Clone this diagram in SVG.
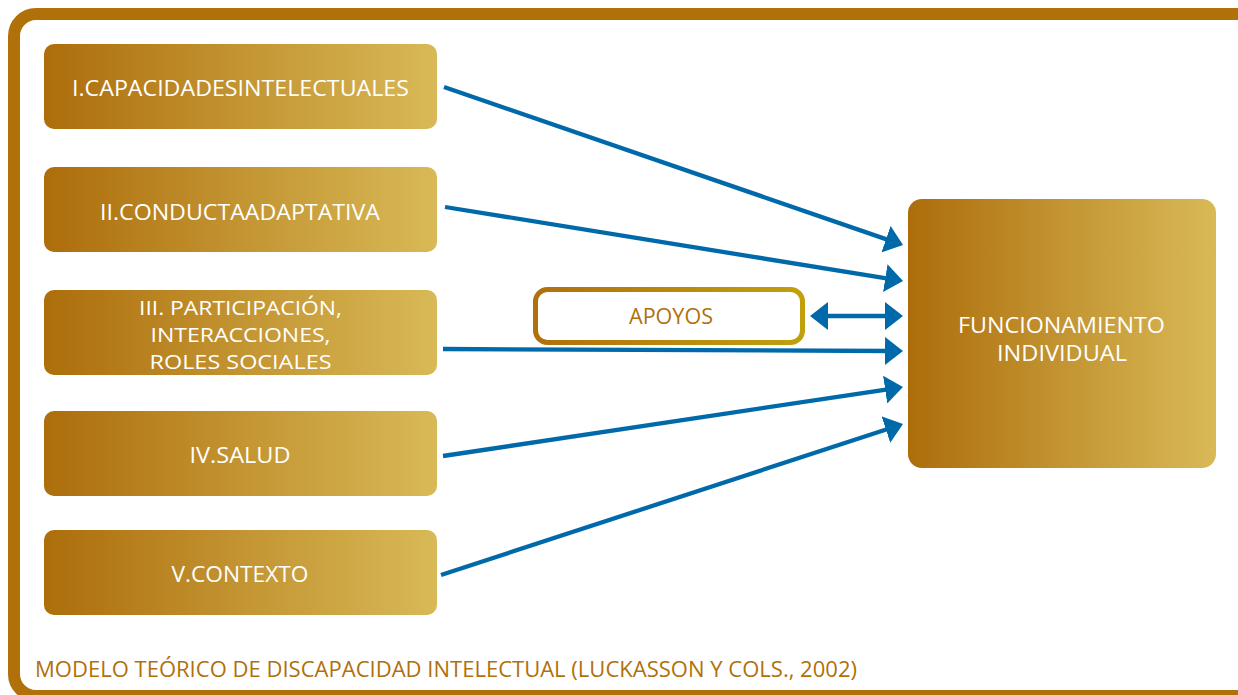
<svg xmlns="http://www.w3.org/2000/svg" width="1238" height="695" viewBox="0 0 1238 695">
<defs>
<linearGradient id="gold" x1="0" y1="0" x2="1" y2="0">
<stop offset="0" stop-color="#AD6D0B"/>
<stop offset="0.5" stop-color="#C39432"/>
<stop offset="1" stop-color="#D9B957"/>
</linearGradient>
<linearGradient id="goldStroke" x1="0" y1="0" x2="1" y2="0">
<stop offset="0" stop-color="#B0700C"/>
<stop offset="1" stop-color="#C1A00C"/>
</linearGradient>
<marker id="ah" markerUnits="userSpaceOnUse" markerWidth="18" markerHeight="28" refX="6" refY="14" orient="auto-start-reverse">
<path d="M0,0 L18,14 L0,28 z" fill="#0069A9"/>
</marker>
<style>
.box{fill:url(#gold)}
.lbl{font-family:"Open Sans","Liberation Sans",sans-serif;font-size:22.5px;fill:#ffffff;text-anchor:middle}
.sm{font-size:20px}
.gold{font-family:"Open Sans","Liberation Sans",sans-serif;font-size:22px;fill:#B0700C}
.conn{stroke:#0069A9;stroke-width:4.3;fill:none;marker-end:url(#ah)}
</style>
</defs>
<rect x="0" y="0" width="1238" height="695" fill="#ffffff"/>
<rect id="frame" x="14" y="14" width="1270" height="682" rx="22" fill="none" stroke="#B0700A" stroke-width="12"/>
<g id="n1"><rect class="box" x="44" y="44" width="393" height="85" rx="10"/><text class="lbl" x="240.5" y="96" textLength="337" lengthAdjust="spacingAndGlyphs">I.CAPACIDADESINTELECTUALES</text></g>
<g id="n2"><rect class="box" x="44" y="167" width="393" height="85" rx="10"/><text class="lbl" x="240" y="220" textLength="280" lengthAdjust="spacingAndGlyphs">II.CONDUCTAADAPTATIVA</text></g>
<g id="n3"><rect class="box" x="44" y="290" width="393" height="85" rx="10"/>
<text class="lbl sm" x="240.5" y="315" textLength="203" lengthAdjust="spacingAndGlyphs">III. PARTICIPACIÓN,</text>
<text class="lbl sm" x="240.5" y="342" textLength="180" lengthAdjust="spacingAndGlyphs">INTERACCIONES,</text>
<text class="lbl sm" x="240.5" y="369" textLength="182" lengthAdjust="spacingAndGlyphs">ROLES SOCIALES</text></g>
<g id="n4"><rect class="box" x="44" y="411" width="393" height="85" rx="10"/><text class="lbl" x="240" y="463" textLength="101" lengthAdjust="spacingAndGlyphs">IV.SALUD</text></g>
<g id="n5"><rect class="box" x="44" y="530" width="393" height="85" rx="10"/><text class="lbl" x="240" y="582" textLength="137" lengthAdjust="spacingAndGlyphs">V.CONTEXTO</text></g>
<g id="apoyos"><rect x="535.5" y="289.5" width="267" height="53" rx="12" fill="#ffffff" stroke="url(#goldStroke)" stroke-width="5"/><text class="gold" x="671" y="324" text-anchor="middle" textLength="84" lengthAdjust="spacingAndGlyphs">APOYOS</text></g>
<g id="func"><rect class="box" x="908" y="199" width="308" height="269" rx="14"/>
<text class="lbl" x="1061.5" y="333" textLength="207" lengthAdjust="spacingAndGlyphs">FUNCIONAMIENTO</text>
<text class="lbl" x="1062" y="361" textLength="130" lengthAdjust="spacingAndGlyphs">INDIVIDUAL</text></g>
<g id="connectors">
<line class="conn" x1="444" y1="87" x2="891.7" y2="241.1"/>
<line class="conn" x1="445" y1="207" x2="891.2" y2="279.1"/>
<line class="conn" x1="443" y1="349" x2="891" y2="351"/>
<line class="conn" x1="443" y1="456" x2="891.1" y2="388.8"/>
<line class="conn" x1="441" y1="575" x2="891.6" y2="427.7"/>
<line class="conn" x1="822" y1="316" x2="891" y2="316" marker-start="url(#ah)"/>
</g>
<text id="caption" class="gold" x="35" y="677" textLength="822" lengthAdjust="spacingAndGlyphs">MODELO TEÓRICO DE DISCAPACIDAD INTELECTUAL (LUCKASSON Y COLS., 2002)</text>
</svg>
